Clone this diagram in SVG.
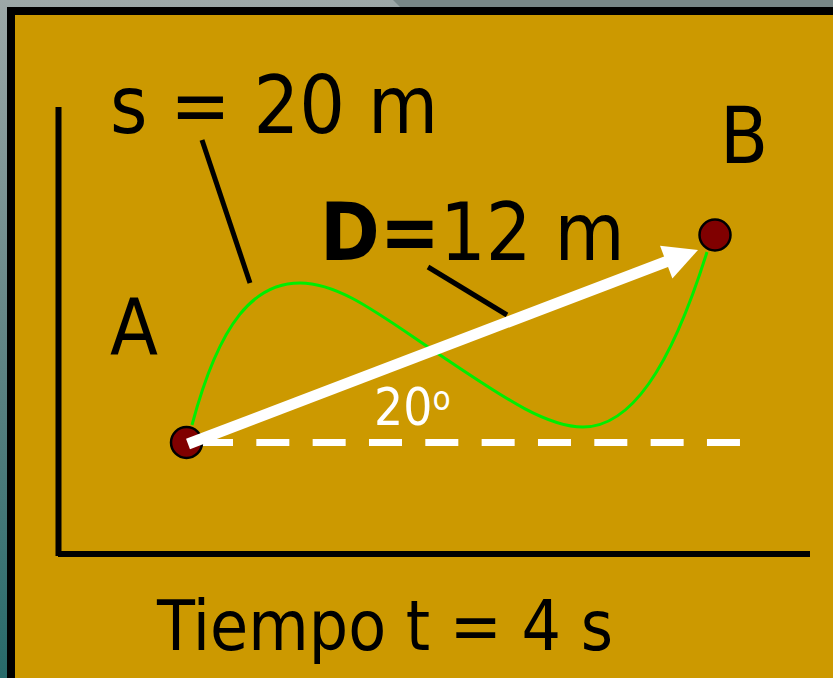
<svg xmlns="http://www.w3.org/2000/svg" width="833" height="678" viewBox="0 0 833 678">
<defs>
<linearGradient id="bg" x1="0" y1="0" x2="0" y2="1">
<stop offset="0" stop-color="#9da8a8"/>
<stop offset="0.5" stop-color="#628585"/>
<stop offset="1" stop-color="#276a6a"/>
</linearGradient>
<style>
.t{font-family:"DejaVu Sans Condensed","DejaVu Sans",sans-serif;font-stretch:condensed;fill:#000}
.lead{stroke:#000;stroke-width:5;fill:none}
.dot{fill:#800000;stroke:#000;stroke-width:2.5}
</style>
</defs>
<rect x="0" y="0" width="833" height="678" fill="url(#bg)"/>
<polygon points="393,0 833,0 833,8 401,8" fill="#788787"/>
<rect id="frame" x="11" y="11" width="900" height="900" fill="#CC9900" stroke="#000" stroke-width="8"/>
<g id="axes">
<line x1="58.5" y1="107" x2="58.5" y2="556" stroke="#000" stroke-width="6"/>
<line x1="58" y1="554" x2="810" y2="554" stroke="#000" stroke-width="6"/>
</g>
<g id="path-s">
<path d="M192,425 C220,320 255,283 300,283 C340,283 380,315 440,355 C500,395 545,427 583,427 C630,427 670,370 707,252" fill="none" stroke="#00ee00" stroke-width="3"/>
</g>
<g id="connectors">
<line x1="200" y1="442.5" x2="740" y2="442.5" stroke="#fff" stroke-width="7" stroke-dasharray="33 23.33"/>
<line class="lead" x1="202" y1="140" x2="250" y2="283"/>
<line class="lead" x1="428" y1="267" x2="507" y2="315"/>
</g>
<g id="node-A"><circle class="dot" cx="186.5" cy="442.5" r="15.5"/></g>
<g id="node-B"><circle class="dot" cx="715" cy="235" r="15.5"/></g>
<g id="displacement">
<line x1="188" y1="444" x2="668" y2="261" stroke="#fff" stroke-width="11"/>
<polygon points="698,250 660,245.7 672.4,278.5" fill="#fff"/>
</g>
<g id="labels">
<text class="t" x="110" y="133" font-size="80">s = 20 m</text>
<text class="t" x="720" y="163" font-size="78">B</text>
<text class="t" x="110" y="355" font-size="78">A</text>
<text class="t" x="320" y="260" font-size="80"><tspan font-weight="bold">D=</tspan>12 m</text>
<text class="t" x="374" y="425" font-size="51" style="fill:#fff">20<tspan font-size="33" dy="-15">o</tspan></text>
<text class="t" x="157" y="650" font-size="69">Tiempo t = 4 s</text>
</g>
</svg>
